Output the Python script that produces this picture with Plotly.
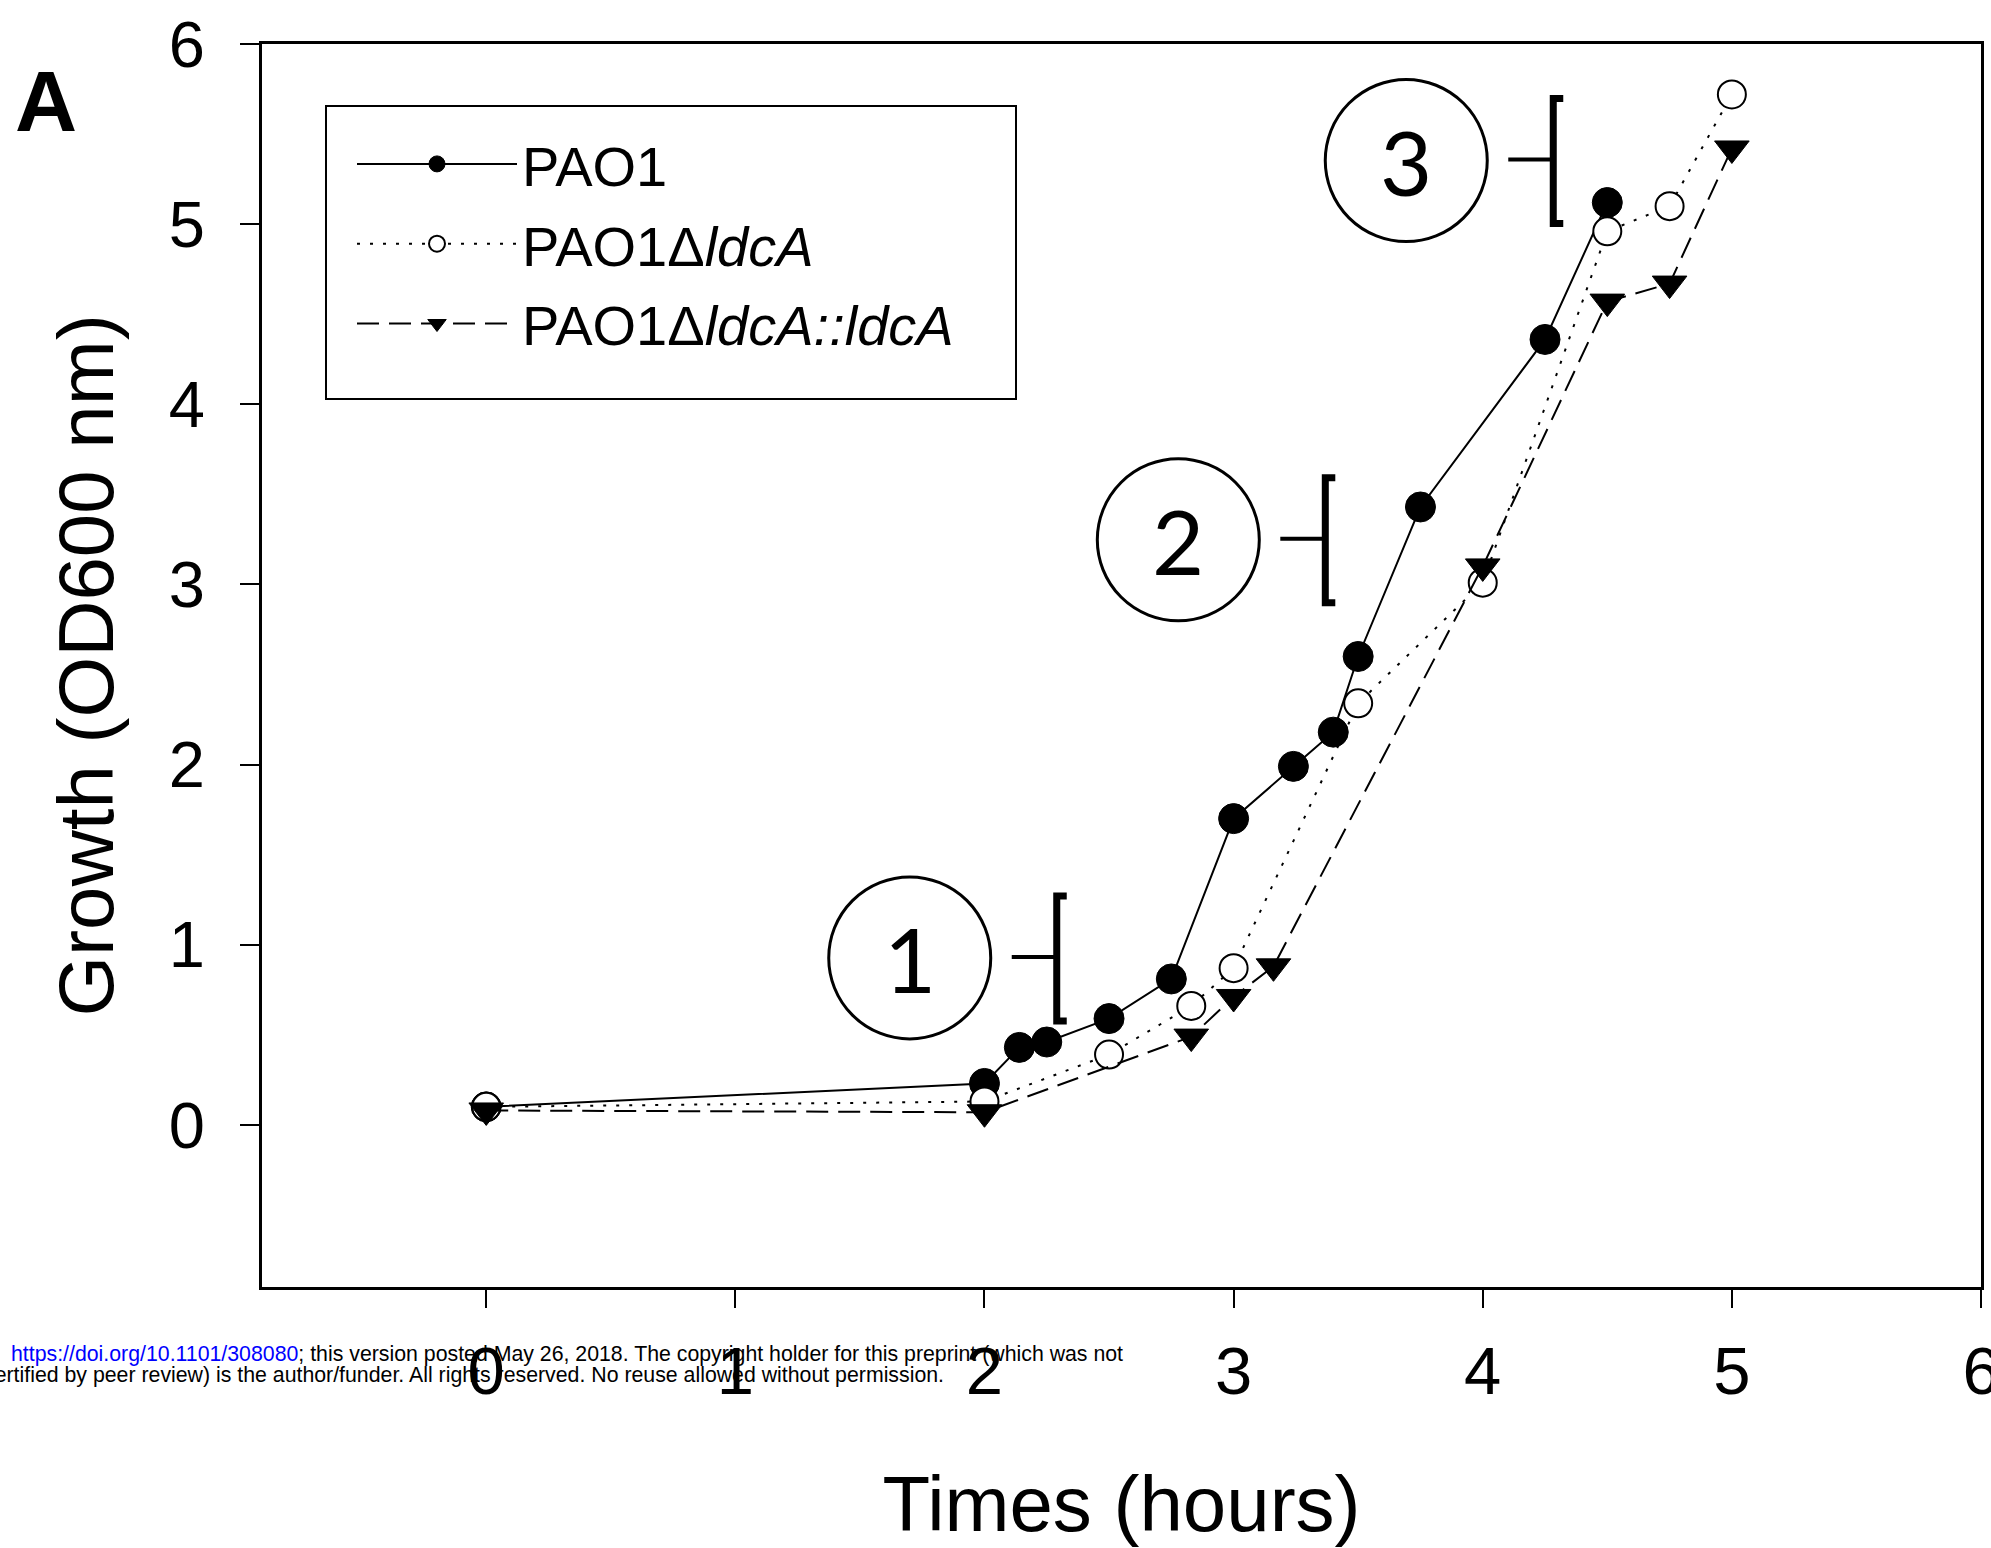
import plotly.graph_objects as go

# ---- data ----
pao1_t = [0, 2.0, 2.14, 2.25, 2.5, 2.75, 3.0, 3.24, 3.40, 3.5, 3.75, 4.25, 4.5]
pao1_od = [0.10, 0.23, 0.43, 0.46, 0.59, 0.81, 1.70, 1.99, 2.18, 2.60, 3.43, 4.36, 5.12]

mut_t = [0, 2.0, 2.5, 2.83, 3.0, 3.5, 4.0, 4.5, 4.75, 5.0]
mut_od = [0.10, 0.13, 0.39, 0.66, 0.87, 2.34, 3.01, 4.96, 5.10, 5.72]

comp_t = [0, 2.0, 2.83, 3.0, 3.16, 4.0, 4.5, 4.75, 5.0]
comp_od = [0.08, 0.07, 0.49, 0.71, 0.88, 3.10, 4.57, 4.67, 5.42]

series_names = ["PAO1", "PAO1Δ<i>ldcA</i>", "PAO1Δ<i>ldcA::ldcA</i>\u00a0\u00a0"]

x_ticks = [0, 1, 2, 3, 4, 5, 6]
y_ticks = [0, 1, 2, 3, 4, 5, 6]

# phase labels (circled numbers) and their anchor positions (data units)
phase_labels = ["1", "2", "3"]
phase_x = [1.70, 2.778, 3.693]
phase_y = [0.927, 3.248, 5.353]

FONT = "Arial, Liberation Sans, sans-serif"

fig = go.Figure()

fig.add_trace(go.Scatter(
    x=pao1_t, y=pao1_od, name=series_names[0], mode="lines+markers",
    line=dict(color="black", width=2),
    marker=dict(symbol="circle", size=30, color="black", line=dict(color="black", width=1)),
    legendgroup="a"))
fig.add_trace(go.Scatter(
    x=mut_t, y=mut_od, name=series_names[1], mode="lines+markers",
    line=dict(color="black", width=2, dash="3px,10px"),
    marker=dict(symbol="circle", size=28, color="white", line=dict(color="black", width=2)),
    legendgroup="b"))
fig.add_trace(go.Scatter(
    x=comp_t, y=comp_od, name=series_names[2], mode="lines+markers",
    line=dict(color="black", width=2, dash="22px,10px"),
    marker=dict(symbol="triangle-down", size=30, color="black", line=dict(color="black", width=1)),
    legendgroup="c"))

shapes = []
annotations = []
R = 81
for lab, cx, cy in zip(phase_labels, phase_x, phase_y):
    shapes.append(dict(type="circle", xref="x", yref="y", xsizemode="pixel", ysizemode="pixel",
                       xanchor=cx, yanchor=cy, x0=-R, x1=R, y0=-R, y1=R,
                       line=dict(color="black", width=3)))
    shapes.append(dict(type="line", xref="x", yref="y", xsizemode="pixel", ysizemode="pixel",
                       xanchor=cx, yanchor=cy, x0=102, x1=146, y0=1, y1=1,
                       line=dict(color="black", width=4)))
    shapes.append(dict(type="path", xref="x", yref="y", xsizemode="pixel", ysizemode="pixel",
                       xanchor=cx, yanchor=cy,
                       path="M 157,62 L 147,62 L 147,-63 L 157,-63",
                       line=dict(color="black", width=7)))
    annotations.append(dict(x=cx, y=cy, xref="x", yref="y", text=lab, showarrow=False,
                            font=dict(family="Lato, Open Sans, sans-serif", size=90, color="black"),
                            xanchor="center", yanchor="middle"))

# legend frame
shapes.append(dict(type="rect", xref="paper", yref="paper",
                   x0=(326 - 262) / 1719, x1=(1016 - 262) / 1719,
                   y0=(1287 - 399) / 1243, y1=(1287 - 106) / 1243,
                   line=dict(color="black", width=2), fillcolor="rgba(0,0,0,0)", layer="above"))

annotations.append(dict(x=-0.1257, y=0.954, xref="paper", yref="paper", text="<b>A</b>",
                        showarrow=False, xanchor="center", yanchor="middle",
                        font=dict(family=FONT, size=86, color="black")))

annotations.append(dict(x=(9 - 262) / 1719, y=(1287 - 1354) / 1243, xref="paper", yref="paper",
                        text="<span style='color:#0000ff'>https://doi.org/10.1101/308080</span>; this version posted May 26, 2018. The copyright holder for this preprint (which was not",
                        showarrow=False, xanchor="left", yanchor="middle",
                        font=dict(family=FONT, size=21.3, color="black")))
annotations.append(dict(x=(946 - 262) / 1719, y=(1287 - 1375) / 1243, xref="paper", yref="paper",
                        text="certified by peer review) is the author/funder. All rights reserved. No reuse allowed without permission.",
                        showarrow=False, xanchor="right", yanchor="middle",
                        font=dict(family=FONT, size=21.3, color="black")))

fig.update_layout(
    width=1991, height=1548,
    margin=dict(l=262, r=10, t=44, b=261),
    paper_bgcolor="white", plot_bgcolor="white",
    font=dict(family=FONT, color="black"),
    showlegend=True,
    legend=dict(x=(352 - 262) / 1719, y=(1287 - 121) / 1243, xanchor="left", yanchor="top",
                borderwidth=0, bgcolor="rgba(0,0,0,0)",
                font=dict(family=FONT, size=56, color="black"),
                itemwidth=160, tracegroupgap=4),
    shapes=shapes,
    annotations=annotations,
)

fig.update_xaxes(range=[-0.9, 6], tickmode="array", tickvals=x_ticks,
                 ticks="outside", ticklen=18, tickwidth=2, tickcolor="black",
                 showline=True, linecolor="black", linewidth=3, mirror=True,
                 showgrid=False, zeroline=False,
                 tickfont=dict(family=FONT, size=67, color="black"),
                 ticklabelstandoff=6, ticklabeloverflow="allow",
                 title=dict(text="Times (hours)", font=dict(family=FONT, size=78, color="black"), standoff=80),
                 automargin=False)
fig.update_yaxes(range=[-0.9, 6], tickmode="array", tickvals=y_ticks,
                 ticks="outside", ticklen=19, tickwidth=2, tickcolor="black",
                 showline=True, linecolor="black", linewidth=3, mirror=True,
                 showgrid=False, zeroline=False,
                 tickfont=dict(family=FONT, size=65, color="black"),
                 ticklabelstandoff=22,
                 title=dict(text="Growth (OD600 nm)", font=dict(family=FONT, size=78, color="black"), standoff=30),
                 automargin=False)

fig.write_html("out.html")
